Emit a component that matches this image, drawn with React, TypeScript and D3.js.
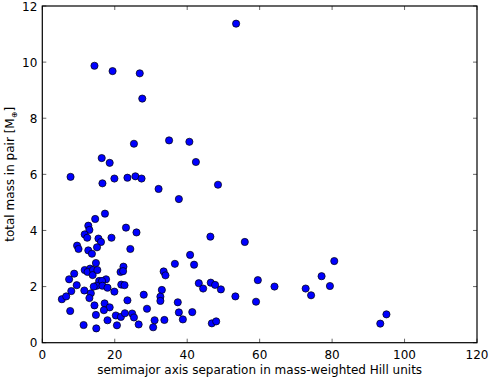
import React from "react";
import * as d3 from "d3";

// semimajor axis separation (mutual Hill radii)
const sep = [
  53.5, 14.4, 19.4, 26.9, 27.6, 25.3, 35.0, 40.6, 42.4, 16.4, 18.6, 7.8, 16.6, 19.9, 23.5, 25.7, 27.4, 32.1, 48.5,
  37.7, 17.3, 14.6, 12.7, 13.0, 23.1, 26.0, 46.4, 55.9, 11.7, 12.4, 15.5, 16.2, 19.1, 9.6, 10.0, 15.1, 24.3, 12.7,
  13.7, 40.8, 14.8, 36.6, 41.9, 22.4, 11.7, 13.2, 12.5, 14.0, 13.9, 15.2, 8.8, 21.6, 22.3, 33.5, 34.0, 7.4, 17.6,
  15.7, 16.5, 15.0, 14.2, 16.6, 18.0, 21.8, 22.7, 9.5, 8.0, 11.6, 13.4, 13.0, 19.9, 33.0, 43.2, 44.4, 46.5, 47.7,
  49.3, 5.4, 6.6, 28.0, 32.6, 32.6, 23.5, 14.4, 17.2, 18.6, 17.0, 37.4, 53.3, 7.7, 28.9, 14.8, 20.3, 21.7, 22.8,
  24.8, 25.3, 18.0, 31.0, 33.7, 37.7, 41.4, 38.8, 46.8, 48.0, 11.4, 20.6, 26.6, 30.6, 14.9, 59.5, 59.0, 64.1, 72.7,
  74.2, 77.1, 79.4, 80.6, 93.3, 95.0,
];

// total mass of the pair (Earth masses)
const mass = [
  11.37, 9.87, 9.68, 9.6, 8.7, 7.09, 7.21, 7.16, 6.44, 6.58, 6.41, 5.91, 5.68, 5.85, 5.88, 5.93, 5.85, 5.48, 5.63,
  5.12, 4.6, 4.41, 4.17, 4.02, 4.1, 3.93, 3.78, 3.59, 3.86, 3.74, 3.71, 3.59, 3.74, 3.46, 3.34, 3.4, 3.34, 3.29,
  3.17, 3.13, 2.84, 2.81, 2.78, 2.71, 2.59, 2.64, 2.52, 2.59, 2.41, 2.59, 2.46, 2.52, 2.55, 2.54, 2.4, 2.26, 2.26,
  2.2, 2.2, 2.03, 2.0, 2.03, 1.96, 2.07, 2.05, 2.05, 1.84, 1.86, 1.76, 1.59, 1.82, 1.88, 2.12, 1.93, 2.14, 2.06,
  1.9, 1.55, 1.65, 1.71, 1.64, 1.49, 1.51, 1.33, 1.4, 1.26, 1.16, 1.44, 1.65, 1.13, 1.21, 0.99, 0.97, 0.92, 1.05,
  1.04, 0.9, 0.8, 0.8, 0.81, 1.08, 1.09, 0.83, 0.69, 0.76, 0.63, 0.62, 0.65, 0.55, 0.51, 2.23, 1.46, 2.0, 1.93,
  1.69, 2.37, 2.02, 2.91, 0.68, 1.01,
];

const xTicks = [0, 20, 40, 60, 80, 100, 120];
const yTicks = [0, 2, 4, 6, 8, 10, 12];

const W = 491;
const H = 377;
const left = 42.3;
const right = 477;
const top = 6;
const bottom = 342.7;

export default function App() {
  const x = d3.scaleLinear().domain([0, 120]).range([left, right]);
  const y = d3.scaleLinear().domain([0, 12]).range([bottom, top]);
  const font = "DejaVu Sans, sans-serif";
  const tick = 4;

  return (
    <svg width={W} height={H} style={{ position: "absolute", left: 0, top: 0, background: "#fff" }}>
      <g fontFamily={font} fontSize={12} fill="#000">
        {sep.map((s, i) => (
          <circle key={i} cx={x(s)} cy={y(mass[i])} r={3.6} fill="#0000ff" stroke="#000" strokeWidth={0.7} />
        ))}
        <rect x={left} y={top} width={right - left} height={bottom - top} fill="none" stroke="#000" strokeWidth={1.2} />
        {xTicks.map((t) => (
          <g key={"x" + t}>
            <line x1={x(t)} x2={x(t)} y1={bottom} y2={bottom - tick} stroke="#000" strokeWidth={0.6} />
            <line x1={x(t)} x2={x(t)} y1={top} y2={top + tick} stroke="#000" strokeWidth={0.6} />
            <text x={x(t)} y={bottom + 16} textAnchor="middle">{t}</text>
          </g>
        ))}
        {yTicks.map((t) => (
          <g key={"y" + t}>
            <line x1={left} x2={left + tick} y1={y(t)} y2={y(t)} stroke="#000" strokeWidth={0.6} />
            <line x1={right} x2={right - tick} y1={y(t)} y2={y(t)} stroke="#000" strokeWidth={0.6} />
            <text x={left - 5} y={y(t) + 4.5} textAnchor="end">{t}</text>
          </g>
        ))}
        <text x={(left + right) / 2} y={374} textAnchor="middle">
          semimajor axis separation in mass-weighted Hill units
        </text>
        <text transform={`translate(14,${(top + bottom) / 2}) rotate(-90)`} textAnchor="middle">
          total mass in pair [M
          <tspan fontSize={8} dy={3}>⊕</tspan>
          <tspan dy={-3}>]</tspan>
        </text>
      </g>
    </svg>
  );
}
